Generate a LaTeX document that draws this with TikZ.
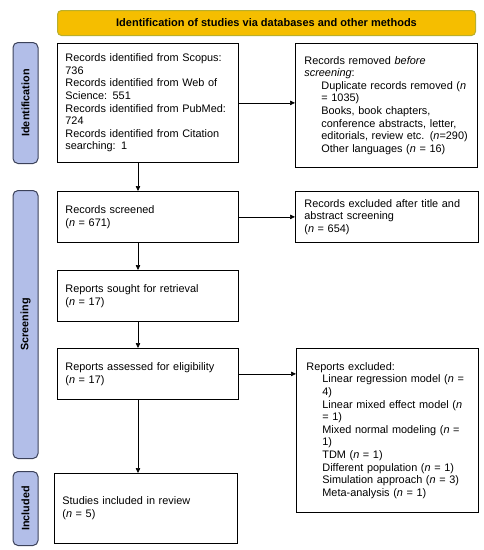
\documentclass[tikz,border=0pt]{standalone}
\usepackage{fontspec}
\setmainfont{Liberation Sans}
\usetikzlibrary{arrows.meta}
\definecolor{barfill}{RGB}{245,190,0}
\definecolor{barline}{RGB}{185,175,45}
\definecolor{sidefill}{RGB}{178,190,232}
\definecolor{sideline}{RGB}{60,66,90}
\begin{document}
\begin{tikzpicture}[x=1pt,y=-1pt,
  every node/.style={font=\fontsize{10.9}{12.6}\selectfont},
  box/.style={draw, line width=0.8pt, inner xsep=8pt, inner ysep=0pt, align=left, anchor=north west},
  side/.style={draw=sideline, fill=sidefill, line width=1pt, rounded corners=5pt, anchor=north west, inner sep=0pt},
  sidetext/.style={rotate=90, font=\bfseries\fontsize{10.8}{12}\selectfont},
  arr/.style={-{Triangle[length=5pt,width=4.5pt]}, line width=0.6pt}]
\useasboundingbox (0,0) rectangle (484,550);
% title bar
\node[draw=barline, fill=barfill, line width=1pt, rounded corners=4pt, minimum width=418pt, minimum height=25pt, anchor=north west, inner sep=0pt, font=\bfseries\fontsize{11}{13}\selectfont] (title) at (57,10) {Identification of studies via databases and other methods};
% side bars
\node[side, minimum width=25pt, minimum height=121pt] (sid) at (12.5,42) {};
\node[sidetext] (sidl) at (sid.center) {Identification};
\node[side, minimum width=25pt, minimum height=268pt] (sscr) at (12.5,190) {};
\node[sidetext] (sscrl) at (sscr.center) {Screening};
\node[side, minimum width=25pt, minimum height=74pt] (sinc) at (12.5,471) {};
\node[sidetext] (sincl) at (sinc.center) {Included};
% left boxes
\node[box, text width=165pt, minimum height=119pt] (ident) at (57,43) {Records identified from Scopus:\\736\\Records identified from Web of\\Science: 551\\Records identified from PubMed:\\724\\Records identified from Citation\\searching: 1};
\node[box, text width=165pt, minimum height=51pt] (screen) at (57,191) {Records screened\\(\textit{n} = 671)};
\node[box, text width=165pt, minimum height=51pt] (sought) at (57,270) {Reports sought for retrieval\\(\textit{n} = 17)};
\node[box, text width=165pt, minimum height=51pt] (assess) at (57,348) {Reports assessed for eligibility\\(\textit{n} = 17)};
\node[box, text width=167pt, minimum height=70pt] (incl) at (54,473) {Studies included in review\\(\textit{n} = 5)};
% right boxes
\node[box, inner xsep=9pt, text width=164pt, minimum height=124pt] (removed) at (295,43) {Records removed \textit{before}\\\textit{screening}:\\\hspace*{17pt}Duplicate records removed (\textit{n}\\\hspace*{17pt}= 1035)\\\hspace*{17pt}Books, book chapters,\\\hspace*{17pt}conference abstracts, letter,\\\hspace*{17pt}editorials, review etc. (\textit{n}=290)\\\hspace*{17pt}Other languages (\textit{n} = 16)};
\node[box, inner xsep=9pt, text width=165pt, minimum height=51pt] (excl1) at (295,191) {Records excluded after title and\\abstract screening\\(\textit{n} = 654)};
\node[box, inner xsep=10pt, text width=162pt, minimum height=164pt] (excl2) at (296,348) {Reports excluded:\\\hspace*{16pt}Linear regression model (\textit{n} =\\\hspace*{16pt}4)\\\hspace*{16pt}Linear mixed effect model (\textit{n}\\\hspace*{16pt}= 1)\\\hspace*{16pt}Mixed normal modeling (\textit{n} =\\\hspace*{16pt}1)\\\hspace*{16pt}TDM (\textit{n} = 1)\\\hspace*{16pt}Different population (\textit{n} = 1)\\\hspace*{16pt}Simulation approach (\textit{n} = 3)\\\hspace*{16pt}Meta-analysis (\textit{n} = 1)};
% connectors
\coordinate (ax) at (138,0);
\draw[arr] (ident.south -| ax) -- (screen.north -| ax);
\draw[arr] (screen.south -| ax) -- (sought.north -| ax);
\draw[arr] (sought.south -| ax) -- (assess.north -| ax);
\draw[arr] (assess.south -| ax) -- (incl.north -| ax);
\draw[arr] (ident.east) -- (ident.east -| removed.west);
\draw[arr] (screen.east) -- (screen.east -| excl1.west);
\draw[arr] (assess.east) -- (assess.east -| excl2.west);
\end{tikzpicture}
\end{document}
